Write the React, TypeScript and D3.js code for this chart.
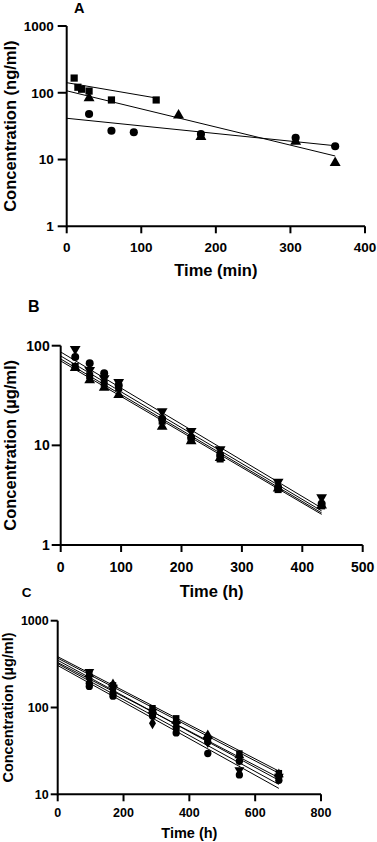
import React from 'react';
import * as d3 from 'd3';

// ---------- Panel A (ng/ml vs min) ----------
const timesA_square = [10, 15, 20, 30, 60, 120];
const concA_square = [166, 121, 113, 106, 78, 78];
const timesA_triangle = [30, 150, 180, 307, 360];
const concA_triangle = [83, 46, 21.8, 18.5, 8.9];
const timesA_circle = [30, 60, 90, 180, 307, 360];
const concA_circle = [48, 27, 25.6, 24.1, 21.2, 15.8];
// fitted line endpoints [t0, t1], [c0, c1]
const fitA_square_t = [0, 120];
const fitA_square_c = [141.6, 83.5];
const fitA_triangle_t = [0, 360];
const fitA_triangle_c = [107, 11.3];
const fitA_circle_t = [0, 360];
const fitA_circle_c = [41.5, 16.1];
const xTicksA = [0, 100, 200, 300, 400];
const yTicksA = [1, 10, 100, 1000];

// ---------- Panel B (µg/ml vs h) ----------
const timesB = [24, 48, 72, 96, 168, 216, 264, 360, 432];
const concB_triDown = [92.6, 57, 47, 43, 22, 13.9, 9.1, 4.3, 3.0];
const concB_circle = [77, 66.5, 53, 40, 18.5, 12, 8, 3.8, 2.6];
const concB_square = [62, 50, 42, 37.7, 17.5, 11.3, 7.3, 3.6, 2.47];
const concB_triUp = [60, 45, 38, 32, 15.4, 11, 7.5, 3.7, 2.5];
const fitB_t = [0, 432];
const fitB_triDown_c = [86.5, 2.35];
const fitB_circle_c = [78.9, 2.2];
const fitB_square_c = [73.6, 2.1];
const fitB_triUp_c = [70.3, 2.03];
const xTicksB = [0, 100, 200, 300, 400, 500];
const yTicksB = [1, 10, 100];

// ---------- Panel C (µg/ml vs h) ----------
const timesC = [96, 168, 288, 360, 456, 552, 672];
const concC_square = [250, 180, 98, 75, 44, 29.5, 17.5];
const concC_triUp = [240, 185, 92, 70, 48, 28, 17];
const concC_triDown = [258, 170, 90, 64, 42, 19, 16];
const concC_diamond = [215, 160, 66, 60, 40, 25, 15.5];
const concC_circle1 = [175, 135, 80, 51, 29.5, 16.7, 14.5];
const concC_circle2 = [190, 145, 85, 58, 40, 24, 16];
const fitC_t = [0, 672];
const fitC_square_c = [385, 18.5];
const fitC_triUp_c = [370, 17.5];
const fitC_triDown_c = [350, 14.5];
const fitC_diamond_c = [320, 13];
const fitC_circle1_c = [305, 11.7];
const fitC_circle2_c = [330, 15.5];
const xTicksC = [0, 200, 400, 600, 800];
const yTicksC = [10, 100, 1000];

const FONT = "'Liberation Sans', Arial, Helvetica, sans-serif";

type Shape = 'square' | 'circle' | 'triUp' | 'triDown' | 'diamond';

const symbolPath = (shape: Shape, size: number) => {
  const t =
    shape === 'square' ? d3.symbolSquare :
    shape === 'circle' ? d3.symbolCircle :
    shape === 'diamond' ? d3.symbolDiamond :
    d3.symbolTriangle;
  return d3.symbol().type(t).size(size)() as string;
};

interface Series { shape: Shape; t: number[]; c: number[]; }
interface Fit { t: number[]; c: number[]; }

interface PanelProps {
  label: string; labelX: number; labelY: number; labelSize: number;
  xDomain: [number, number]; xRange: [number, number];
  yDomain: [number, number]; yRange: [number, number];
  xTicks: number[]; yTicks: number[];
  tickSize: number; titleSize: number;
  xTickBaseline: number; xTitleBaseline: number; xTitle: string;
  yTitle: string; yTitleX: number;
  yTickLen: number; yLabelGap: number;
  series: Series[]; fits: Fit[]; markerSize: number;
}

const Panel = (p: PanelProps) => {
  const x = d3.scaleLinear().domain(p.xDomain).range(p.xRange);
  const y = d3.scaleLog().domain(p.yDomain).range(p.yRange);
  const x0 = p.xRange[0];
  const yBase = p.yRange[0];
  const line = d3.line<[number, number]>().x(d => x(d[0])).y(d => y(d[1]));
  return (
    <g>
      <text x={p.labelX} y={p.labelY} fontSize={p.labelSize} fontWeight="bold" fontFamily={FONT}>{p.label}</text>
      {p.fits.map((f, i) => (
        <path key={'f' + i} d={line([[f.t[0], f.c[0]], [f.t[1], f.c[1]]]) as string}
          stroke="#000" strokeWidth={1} fill="none" />
      ))}
      {p.series.map((s, si) => s.t.map((tv, i) => (
        <path key={'m' + si + '-' + i} d={symbolPath(s.shape, p.markerSize)}
          transform={`translate(${x(tv)},${y(s.c[i])})${s.shape === 'triDown' ? ' rotate(180)' : ''}`}
          fill="#000" />
      )))}
      {/* axes */}
      <line x1={x0} x2={p.xRange[1]} y1={yBase} y2={yBase} stroke="#000" strokeWidth={2} />
      <line x1={x0} x2={x0} y1={yBase + 1} y2={p.yRange[1]} stroke="#000" strokeWidth={2} />
      {p.xTicks.map(t => (
        <g key={'xt' + t}>
          <line x1={x(t)} x2={x(t)} y1={yBase} y2={yBase + 7} stroke="#000" strokeWidth={2} />
          <text x={x(t)} y={p.xTickBaseline} textAnchor="middle" fontSize={p.tickSize} fontWeight="bold" fontFamily={FONT}>{t}</text>
        </g>
      ))}
      {p.yTicks.map(t => (
        <g key={'yt' + t}>
          <line x1={x0 - p.yTickLen} x2={x0} y1={y(t)} y2={y(t)} stroke="#000" strokeWidth={2} />
          <text x={x0 - p.yTickLen - p.yLabelGap} y={y(t)} dy="0.36em" textAnchor="end" fontSize={p.tickSize} fontWeight="bold" fontFamily={FONT}>{t}</text>
        </g>
      ))}
      <text x={(p.xRange[0] + p.xRange[1]) / 2} y={p.xTitleBaseline} textAnchor="middle" fontSize={p.titleSize} fontWeight="bold" fontFamily={FONT}>{p.xTitle}</text>
      <text transform={`translate(${p.yTitleX},${(p.yRange[0] + p.yRange[1]) / 2}) rotate(-90)`} textAnchor="middle" fontSize={p.titleSize} fontWeight="bold" fontFamily={FONT}>{p.yTitle}</text>
    </g>
  );
};

export default function App() {
  return (
    <svg width={377} height={842} style={{ position: 'absolute', left: 0, top: 0, background: '#fff' }}>
      <rect width={377} height={842} fill="#fff" />
      <Panel label="A" labelX={74} labelY={12.5} labelSize={14.5}
        xDomain={[0, 400]} xRange={[66.7, 365]} yDomain={[1, 1000]} yRange={[226.3, 26]}
        xTicks={xTicksA} yTicks={yTicksA} tickSize={13.5} titleSize={16.5}
        xTickBaseline={251.7} xTitleBaseline={275.5} xTitle="Time (min)"
        yTitle="Concentration (ng/ml)" yTitleX={15.5} yTickLen={9} yLabelGap={4}
        markerSize={52}
        series={[
          { shape: 'square', t: timesA_square, c: concA_square },
          { shape: 'triUp', t: timesA_triangle, c: concA_triangle },
          { shape: 'circle', t: timesA_circle, c: concA_circle },
        ]}
        fits={[
          { t: fitA_square_t, c: fitA_square_c },
          { t: fitA_triangle_t, c: fitA_triangle_c },
          { t: fitA_circle_t, c: fitA_circle_c },
        ]} />
      <Panel label="B" labelX={28} labelY={311.7} labelSize={16}
        xDomain={[0, 500]} xRange={[60.7, 362.7]} yDomain={[1, 100]} yRange={[545, 345.7]}
        xTicks={xTicksB} yTicks={yTicksB} tickSize={14} titleSize={16.5}
        xTickBaseline={571.7} xTitleBaseline={597} xTitle="Time (h)"
        yTitle="Concentration (µg/ml)" yTitleX={15.5} yTickLen={9} yLabelGap={2}
        markerSize={50}
        series={[
          { shape: 'triUp', t: timesB, c: concB_triUp },
          { shape: 'square', t: timesB, c: concB_square },
          { shape: 'circle', t: timesB, c: concB_circle },
          { shape: 'triDown', t: timesB, c: concB_triDown },
        ]}
        fits={[
          { t: fitB_t, c: fitB_triDown_c },
          { t: fitB_t, c: fitB_circle_c },
          { t: fitB_t, c: fitB_square_c },
          { t: fitB_t, c: fitB_triUp_c },
        ]} />
      <Panel label="C" labelX={21.7} labelY={597} labelSize={13.5}
        xDomain={[0, 800]} xRange={[57.7, 321]} yDomain={[10, 1000]} yRange={[794.3, 620.7]}
        xTicks={xTicksC} yTicks={yTicksC} tickSize={12.5} titleSize={14.5}
        xTickBaseline={817} xTitleBaseline={837.5} xTitle="Time (h)"
        yTitle="Concentration (µg/ml)" yTitleX={12.5} yTickLen={7} yLabelGap={2}
        markerSize={42}
        series={[
          { shape: 'circle', t: timesC, c: concC_circle1 },
          { shape: 'circle', t: timesC, c: concC_circle2 },
          { shape: 'diamond', t: timesC, c: concC_diamond },
          { shape: 'triDown', t: timesC, c: concC_triDown },
          { shape: 'triUp', t: timesC, c: concC_triUp },
          { shape: 'square', t: timesC, c: concC_square },
        ]}
        fits={[
          { t: fitC_t, c: fitC_square_c },
          { t: fitC_t, c: fitC_triUp_c },
          { t: fitC_t, c: fitC_triDown_c },
          { t: fitC_t, c: fitC_diamond_c },
          { t: fitC_t, c: fitC_circle1_c },
          { t: fitC_t, c: fitC_circle2_c },
        ]} />
    </svg>
  );
}
